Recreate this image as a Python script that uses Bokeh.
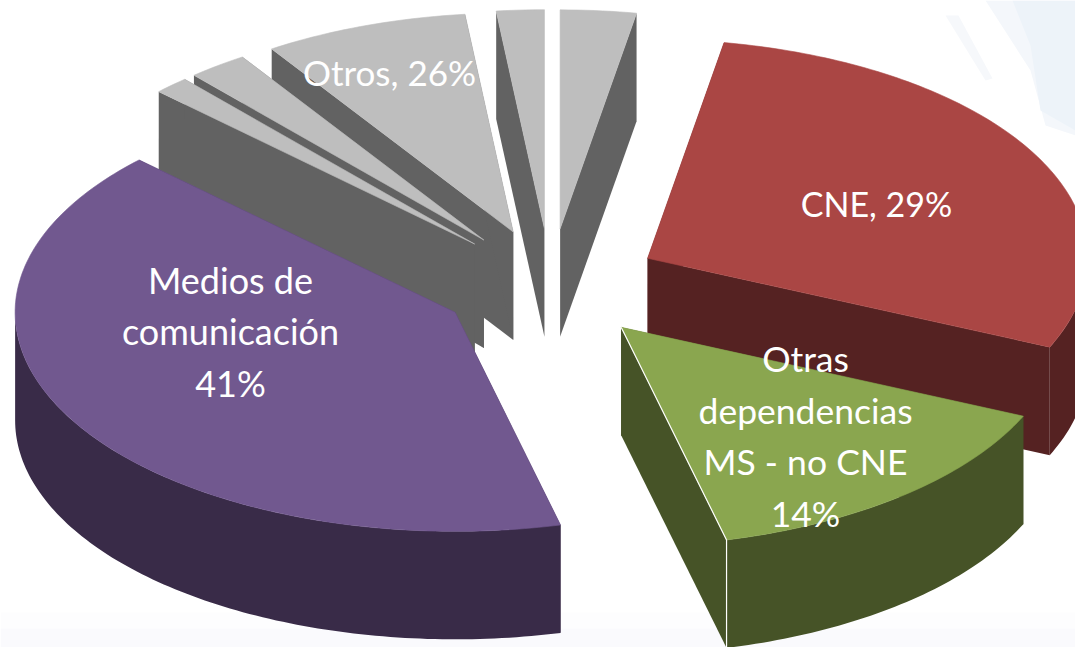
import numpy as np
from bokeh.plotting import figure
from bokeh.models import Range1d
from bokeh.core.properties import value
from bokeh.embed import file_html
from bokeh.resources import INLINE

# Slices clockwise from the top of the pie (share of the circle, %)
slice_names = ["Otros e", "CNE", "Otras dependencias", "Medios", "Otros a", "Otros b", "Otros c", "Otros d"]
slice_shares = [2.78, 28.87, 14.5, 41.1, 1.3, 2.2, 7.5, 1.75]
top_colors = ["#BEBEBE", "#AA4644", "#8AA64F", "#71588F", "#BEBEBE", "#BEBEBE", "#BEBEBE", "#BEBEBE"]
wall_colors = ["#626262", "#552222", "#465327", "#392B48", "#626262", "#626262", "#626262", "#626262"]
paint_order = ["Otros e", "Otros d", "Otros c", "Otros b", "Otros a", "CNE", "Medios", "Otras dependencias"]

label_cne = ["CNE, 29%"]
label_otros = ["Otros, 26%"]
label_medios = ["Medios de", "comunicación", "41%"]
label_otras = ["Otras", "dependencias", "MS - no CNE", "14%"]

# Pie projection (reference pixels)
CX, CY, RX, RY = 550.0, 284.0, 440.0, 219.0
EXPLODE_X, EXPLODE_Y, DEPTH = 0.25, 0.255, 108.0

p = figure(width=1075, height=647, output_backend="svg", toolbar_location=None,
           x_range=Range1d(0, 1075), y_range=Range1d(647, 0),
           min_border=0, outline_line_color=None, background_fill_color="white",
           border_fill_color="white")
p.axis.visible = False
p.grid.visible = False

# Faint page background
p.patch([985, 1010, 1075, 1075, 1045, 1030], [0, 0, 0, 135, 125, 70], fill_color="#F4F7FB", line_color=None)
p.patch([1012, 1075, 1075, 1040, 1030], [0, 0, 130, 110, 45], fill_color="#EDF3F9", line_color=None)
p.patch([945, 958, 992, 985], [15, 15, 78, 80], fill_color="#F6F8FB", line_color=None)
p.quad(left=0, right=1075, top=612, bottom=628, fill_color="#FDFDFE", line_color=None)
p.quad(left=0, right=1075, top=628, bottom=647, fill_color="#FAFAFD", line_color=None)

shares = np.array(slice_shares) / sum(slice_shares)
ends = np.cumsum(shares) * 2 * np.pi
starts = ends - shares * 2 * np.pi
index = {n: i for i, n in enumerate(slice_names)}


def arc(ax, ay, a, b):
    t = np.linspace(a, b, max(6, int((b - a) * 60)))
    return ax + RX * np.sin(t), ay - RY * np.cos(t)


for name in paint_order:
    i = index[name]
    mid = (starts[i] + ends[i]) / 2
    ax = CX + EXPLODE_X * RX * np.sin(mid)
    ay = CY - EXPLODE_Y * RY * np.cos(mid)
    rx, ry = arc(ax, ay, starts[i], ends[i])
    xs = np.concatenate([[ax], rx])
    ys = np.concatenate([[ay], ry])
    # the two cut faces
    for b in (1, len(xs) - 1):
        p.patch([xs[0], xs[b], xs[b], xs[0]], [ys[0], ys[b], ys[b] + DEPTH, ys[0] + DEPTH],
                fill_color=wall_colors[i], line_color=None)
    # the rim shows only on the front half of the pie
    a = max(starts[i], np.pi / 2)
    b = min(ends[i], 3 * np.pi / 2)
    if b > a:
        fx, fy = arc(ax, ay, a, b)
        p.patch(np.concatenate([fx, fx[::-1]]), np.concatenate([fy, fy[::-1] + DEPTH]),
                fill_color=wall_colors[i], line_color=None)
    p.patch(xs, ys, fill_color=top_colors[i], line_color=top_colors[i], line_width=0.6)
    if name == "Otras dependencias":
        p.line([xs[0], xs[-1], xs[-1]], [ys[0], ys[-1], ys[-1] + DEPTH], line_color="white", line_width=1.2)

FONT = value("Lato")


def put(lines, x, y0, size, step=51.5):
    p.text(x=[x] * len(lines), y=[y0 + step * k for k in range(len(lines))], text=lines,
           text_color="white", text_font=FONT, text_font_size=size,
           text_align="center", text_baseline="middle")


put(label_cne, 876, 203, "34px")
put(label_otros, 389, 71, "35px")
put(label_medios, 230, 279, "36px")
put(label_otras, 805, 358, "35.5px")

open("out.html", "w").write(file_html(p, INLINE))
